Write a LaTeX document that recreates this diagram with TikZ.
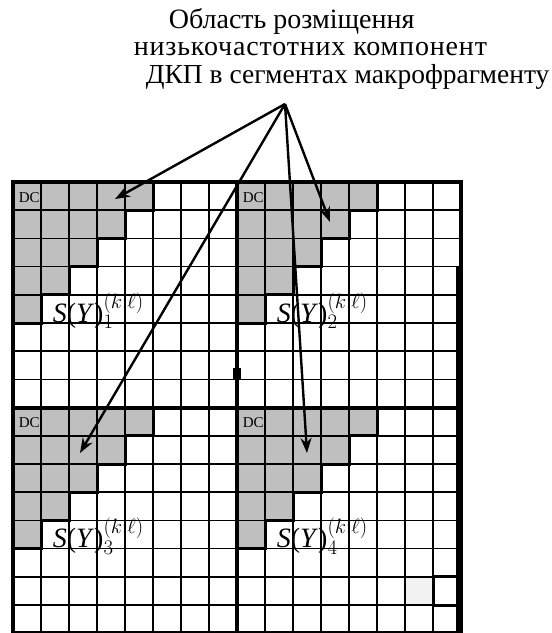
\documentclass[tikz,border=0pt]{standalone}
\usepackage{fontspec}
\setmainfont{Liberation Serif}
\usetikzlibrary{arrows.meta}

\begin{document}
\begin{tikzpicture}[x=1pt, y=-1pt, >={Stealth[length=15pt,width=11pt]}, line width=1.7pt]
  \useasboundingbox (0,0) rectangle (552,633);
  % leyenda
  \node[anchor=base west, inner sep=0, font=\fontsize{28}{28}\selectfont] (title1) at (168,28) {Область розміщення};
  \node[anchor=base west, inner sep=0, font=\fontsize{28}{28}\selectfont\addfontfeature{LetterSpace=3}] (title2) at (133,55) {низькочастотних компонент};
  \node[anchor=base west, inner sep=0, font=\fontsize{27.5}{28}\selectfont] (title3) at (145,83) {ДКП в сегментах макрофрагменту};
  % celdas grises (bajas frecuencias)
  \foreach \qx/\qy in {13/182, 237/182, 13/407.6, 237/407.6} {
    \foreach \r in {0,...,4}
      \fill[gray!50] (\qx,{\qy+\r*28.2}) rectangle ++({28*(5-\r)},28.2);
  }
  \fill[gray!10] (405,576.8) rectangle ++(28,28.2);
  % rejilla
  \foreach \i in {0,...,16} {
    \draw ({13+28*\i},182) -- ({13+28*\i},633.2);
    \draw (13,{182+28.2*\i}) -- (461,{182+28.2*\i});
  }
  % bordes gruesos
  \draw[line width=4pt] (13,182) rectangle (461,633.2);
  \draw[line width=4pt] (237,182) -- (237,633.2);
  \draw[line width=4pt] (13,407.6) -- (461,407.6);
  \draw[line width=7pt] (459,266.6) -- (459,633.2);
  \draw[line width=8pt] (237,368) -- (237,380);
  \draw[line width=3pt] (433,576.8) rectangle ++(28,28.2);
  % escalera y etiquetas de cada segmento
  \foreach \qx/\qy/\n in {13/182/1, 237/182/2, 13/407.6/3, 237/407.6/4} {
    \draw[line width=3pt] ({\qx+140},\qy)
      \foreach \r in {0,...,4} { -- ++(0,28.2) -- ++(-28,0) } -- (\qx,{\qy+141});
    \node[anchor=base west, inner sep=0, font=\fontsize{15}{15}\selectfont] (dc\n) at ({\qx+5},{\qy+20}) {DC};
    \node[anchor=base west, inner sep=0, font=\fontsize{28}{28}\selectfont] (s\n) at ({\qx+39},{\qy+140})
      {\textit{S}(\textit{Y})$_{\n}^{(k;\ell)}$};
  }
  % flechas
  \coordinate (src) at (285,104);
  \coordinate (tip1) at (115,199);
  \coordinate (tip2) at (330,222);
  \coordinate (tip3) at (80,453);
  \coordinate (tip4) at (307,453);
  \foreach \t in {1,...,4}
    \draw[->, line width=2.4pt] (src) -- (tip\t);
\end{tikzpicture}
\end{document}
